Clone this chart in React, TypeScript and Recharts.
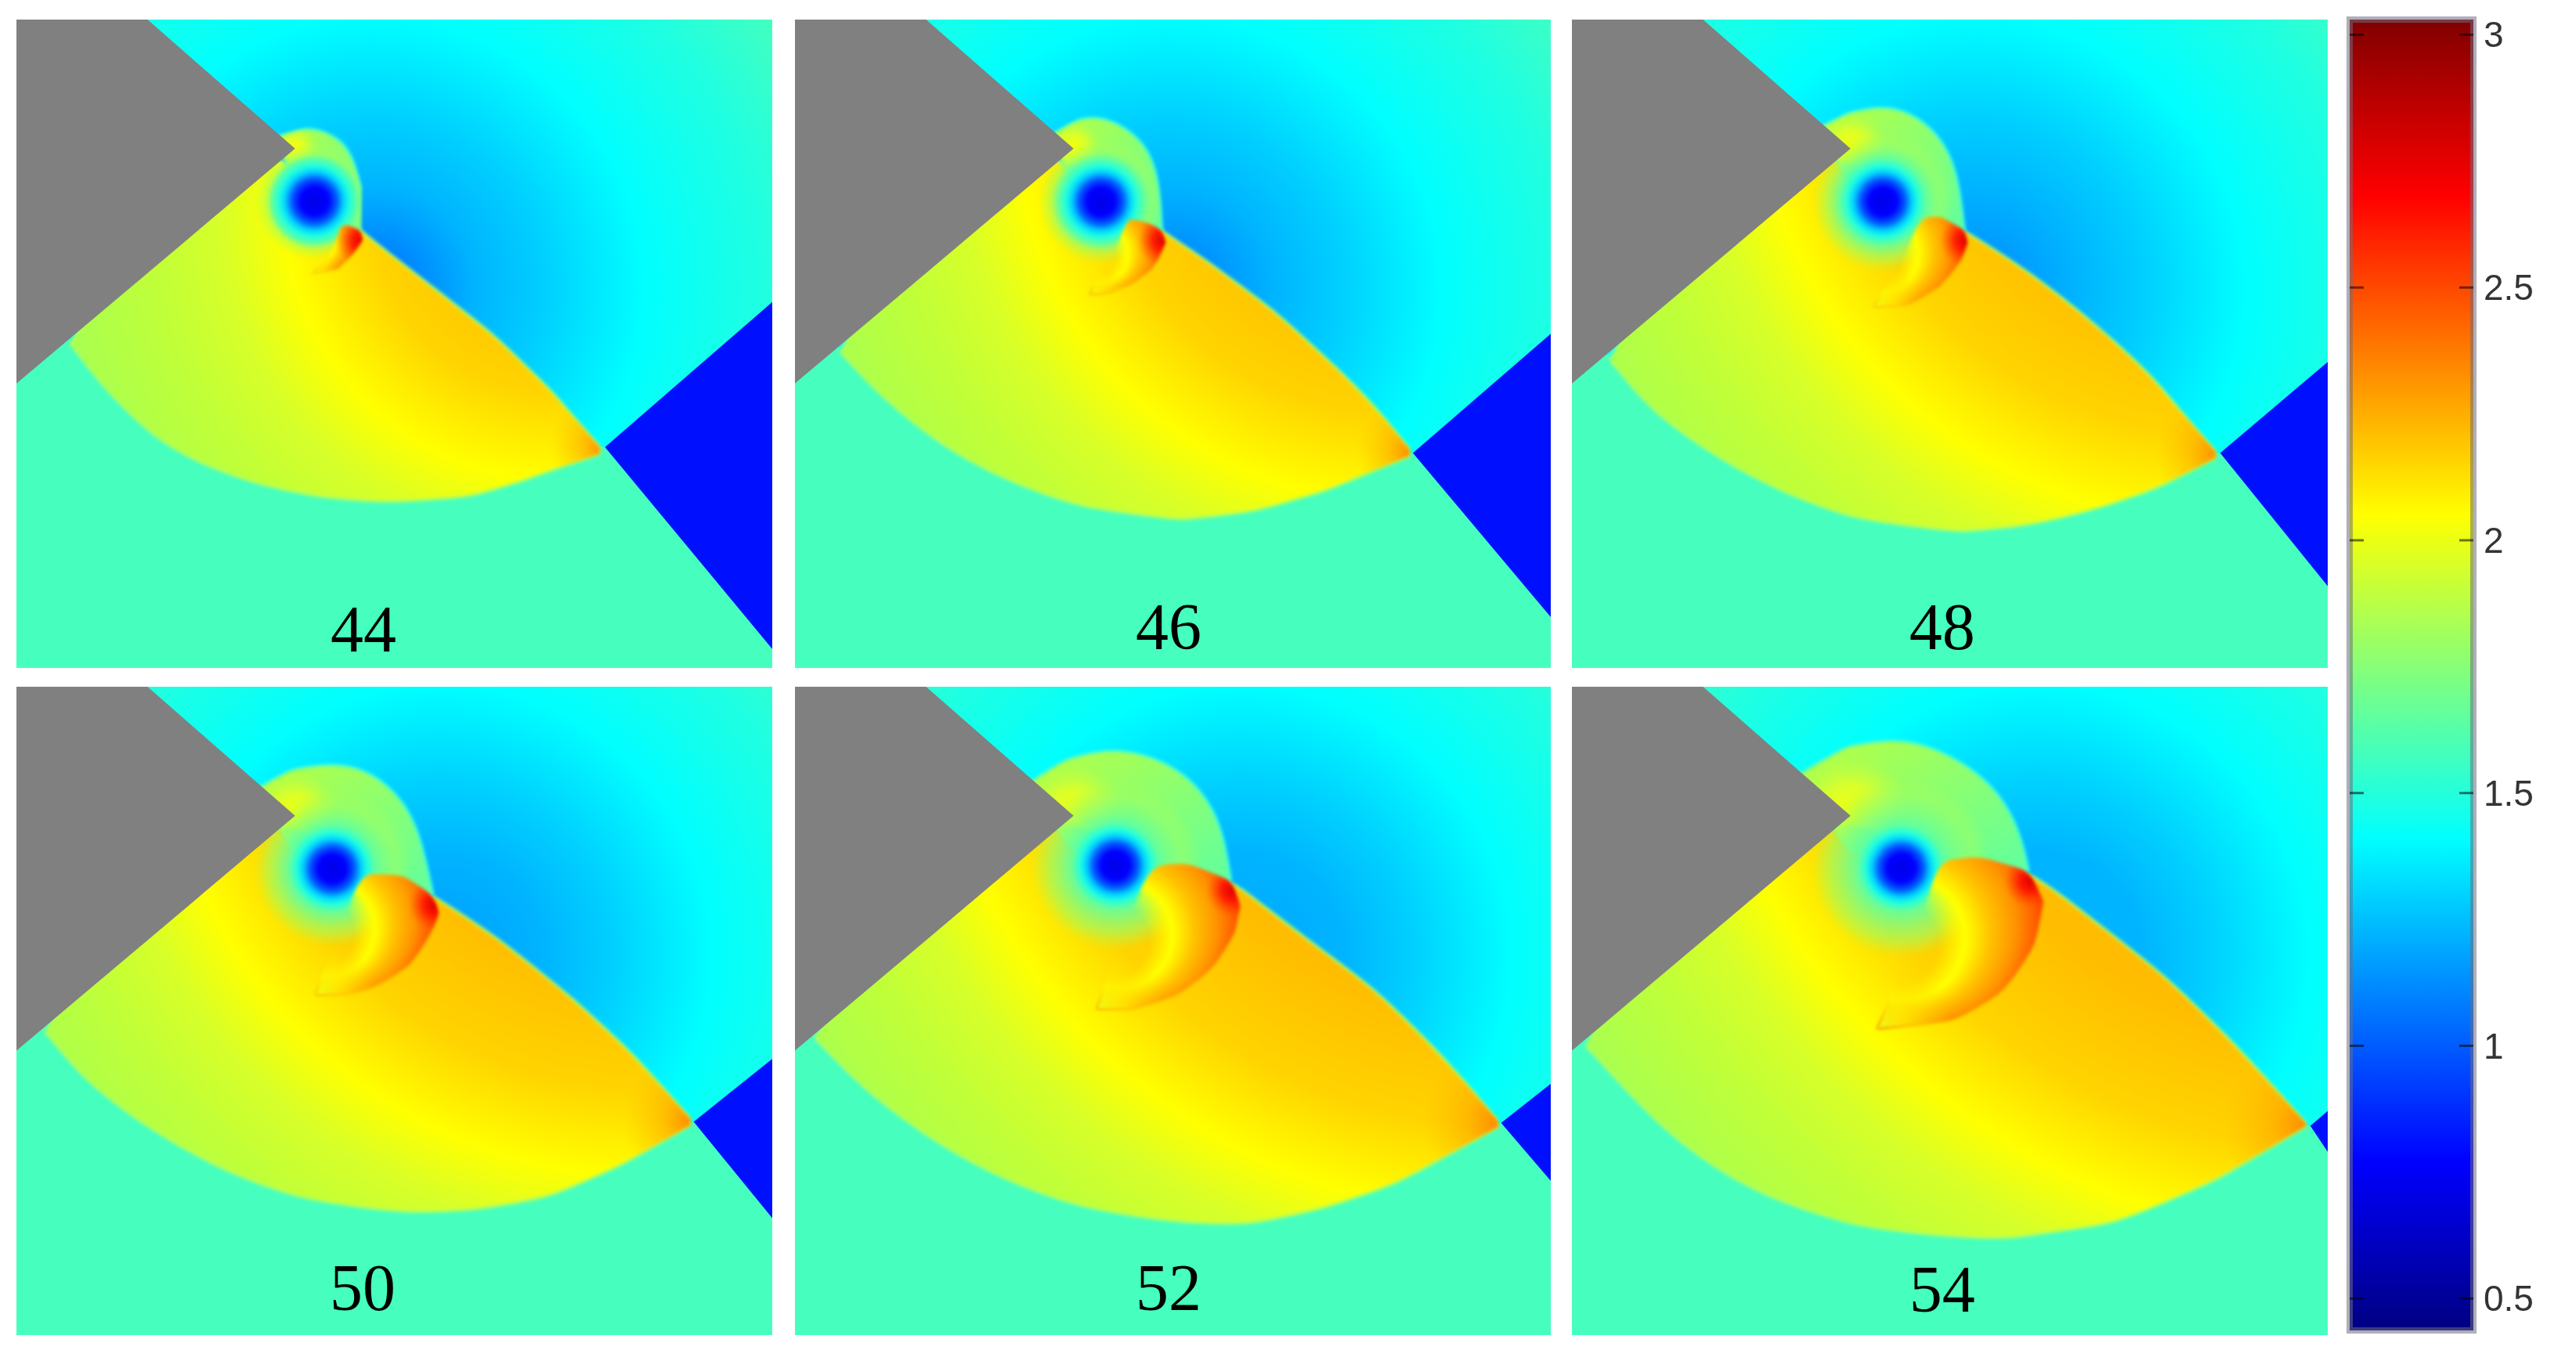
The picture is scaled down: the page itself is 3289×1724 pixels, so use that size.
import React from 'react';
import { Area, Bar, BarChart, ComposedChart, ReferenceDot, XAxis, YAxis } from 'recharts';

type Pt = [number, number];

// field coordinates run 0..1568 on both axes of a panel, y going down
const FIELD = 1568;
const PANEL_W = 965;
const PANEL_H = 828;
const panelPos: Pt[] = [[21, 25], [1015, 25], [2007, 25], [21, 877], [1015, 877], [2007, 877]];

const panelLabels = ['44', '46', '48', '50', '52', '54'];
const labelX = [720, 775, 768, 718, 775, 768];
const labelY = [1472, 1467, 1467, 1450, 1450, 1454];

const wedgeUpper: Pt[] = [[0, 0], [272, 0], [578, 312]];
const wedgeLower: Pt[] = [[0, 880], [272, 613], [578, 312]];

// tip x, tip y, y at right edge (top), y at right edge (bottom)
const blueRegions = [
  [1221, 1034, 683, 1522],
  [1282, 1048, 760, 1445],
  [1345, 1048, 828, 1370],
  [1405, 1052, 900, 1285],
  [1465, 1055, 960, 1195],
  [1532, 1062, 1026, 1125],
];

const fanArcs: Pt[][] = [
  [[112, 784], [182, 890], [290, 1018], [397, 1082], [505, 1124], [634, 1156], [774, 1167], [936, 1155], [1044, 1118], [1125, 1084], [1210, 1050]],
  [[95, 805], [170, 900], [300, 1030], [450, 1120], [600, 1180], [800, 1210], [950, 1190], [1100, 1140], [1275, 1055]],
  [[80, 825], [170, 950], [300, 1060], [450, 1150], [600, 1210], [800, 1238], [950, 1225], [1100, 1180], [1220, 1130], [1335, 1060]],
  [[60, 835], [150, 960], [300, 1090], [450, 1180], [600, 1240], [800, 1272], [950, 1265], [1100, 1235], [1250, 1160], [1398, 1060]],
  [[42, 850], [150, 980], [300, 1110], [450, 1200], [600, 1260], [800, 1298], [950, 1298], [1100, 1260], [1250, 1200], [1458, 1065]],
  [[30, 869], [113, 975], [200, 1080], [317, 1180], [430, 1245], [611, 1310], [870, 1339], [1129, 1297], [1337, 1193], [1523, 1062]],
];

const shocks: Pt[][] = [
  [[715, 513], [850, 635], [990, 763], [1108, 896], [1210, 1034]],
  [[762, 512], [850, 580], [1000, 710], [1130, 850], [1200, 930], [1275, 1040]],
  [[815, 512], [950, 610], [1100, 750], [1200, 860], [1335, 1045]],
  [[865, 505], [1000, 610], [1150, 750], [1280, 890], [1398, 1045]],
  [[905, 470], [1050, 600], [1200, 730], [1350, 900], [1458, 1050]],
  [[948, 447], [1026, 514], [1233, 702], [1388, 880], [1523, 1057]],
];

// first point of each sits just inside the wedge
const bubbleTops: Pt[][] = [
  [[539, 284], [613, 258], [677, 290], [700, 340], [715, 410], [715, 513]],
  [[530, 280], [590, 240], [630, 234], [680, 255], [730, 305], [755, 380], [762, 512]],
  [[515, 260], [575, 225], [640, 208], [700, 222], [760, 275], [800, 360], [815, 512]],
  [[500, 245], [570, 200], [650, 185], [720, 196], [790, 255], [835, 340], [865, 505]],
  [[485, 232], [560, 175], [650, 150], [720, 160], [800, 200], [860, 275], [890, 360], [905, 470]],
  [[472, 210], [569, 144], [663, 125], [735, 139], [818, 186], [891, 260], [932, 358], [948, 447]],
];

const vortices: Pt[] = [[618, 439], [635, 440], [645, 440], [655, 440], [665, 432], [683, 438]];

const crescentTops: Pt[][] = [
  [[612, 614], [645, 582], [667, 529], [672, 492], [699, 503], [715, 513], [717, 534]],
  [[610, 665], [660, 570], [690, 482], [730, 490], [762, 512], [768, 540]],
  [[625, 695], [680, 600], [725, 475], [770, 478], [815, 512], [820, 540]],
  [[620, 745], [680, 560], [715, 452], [800, 455], [865, 505], [875, 545]],
  [[625, 780], [690, 580], [735, 430], [820, 428], [905, 470], [923, 530]],
  [[632, 828], [715, 619], [756, 421], [849, 410], [948, 447], [978, 520]],
];

const crescentBottoms: Pt[][] = [
  [[612, 614], [667, 604], [699, 566], [717, 534]],
  [[610, 665], [650, 662], [700, 640], [745, 600], [768, 540]],
  [[625, 695], [700, 690], [760, 650], [805, 590], [820, 540]],
  [[620, 745], [680, 745], [750, 725], [820, 670], [865, 590], [875, 545]],
  [[625, 780], [700, 780], [790, 750], [870, 680], [915, 590], [923, 530]],
  [[632, 828], [797, 807], [901, 734], [963, 619], [978, 520]],
];

// centre and radius of the crescent's rim, in pixels of the panel
const rimCentres: Pt[] = [[390, 275], [405, 285], [415, 280], [425, 285], [445, 290], [460, 290]];
const rimRadii = [50, 67, 90, 110, 123, 140];

// iso-density circle through the yellow band of the fan
const fanCentres: Pt[] = [[690, 240], [770, 130], [830, 40], [800, 10], [900, -60], [1000, -150]];
const fanRadii = [347, 486, 600, 614, 730, 855];

const haloOuter = [75, 80, 90, 100, 108, 115];
const apexGlow = [30, 36, 48, 58, 68, 80];
const tipGlow = [70, 70, 80, 90, 100, 110];
const airCentreX = [740, 780, 835, 880, 925, 968];
const airCores = ['#0068ff', '#0078ff', '#0088ff', '#009cff', '#00a8ff', '#00b4ff'];

const colorTicks = [0.5, 1, 1.5, 2, 2.5, 3];
const colorDomain: Pt = [0.437, 3.03];
const colorStops: [number, string][] = [
  [0.437, '#000080'],
  [0.77, '#0000ff'],
  [1.41, '#00ffff'],
  [2.05, '#ffff00'],
  [2.68, '#ff0000'],
  [3.03, '#800000'],
];

const sx = (z: number) => (z * PANEL_W) / FIELD;
const sy = (z: number) => (z * PANEL_H) / FIELD;
const wedgeEdge = (x: number) => 880 - 0.9827 * x;

const at = (line: Pt[], x: number) => {
  if (x <= line[0][0]) return line[0][1];
  for (let i = 1; i < line.length; i++) {
    if (x <= line[i][0]) {
      const [x0, y0] = line[i - 1];
      const [x1, y1] = line[i];
      return y0 + ((y1 - y0) * (x - x0)) / (x1 - x0);
    }
  }
  return line[line.length - 1][1];
};

// Area wants one row per x with [upper, lower]
const band = (top: Pt[], bottom: Pt[]) => {
  const xs = Array.from(new Set([...top, ...bottom].map((p) => p[0]))).sort((a, b) => a - b);
  return xs.map((x) => ({ x, range: [at(top, x), at(bottom, x)] }));
};

const Radial = ({ id, c, r, f, stops }: { id: string; c: Pt; r: number; f?: Pt; stops: [number, string, number?][] }) => (
  <radialGradient id={id} gradientUnits="userSpaceOnUse" cx={c[0]} cy={c[1]} r={r} fx={f ? f[0] : c[0]} fy={f ? f[1] : c[1]}>
    {stops.map(([d, color, op], k) => (
      <stop key={k} offset={Math.max(0, Math.min(1, d / r))} stopColor={color} stopOpacity={op ?? 1} />
    ))}
  </radialGradient>
);

const Region = ({ data, fill, soft, type, stroke }: any) => (
  <Area
    data={data}
    dataKey="range"
    type={type || 'linear'}
    fill={fill}
    fillOpacity={1}
    stroke={stroke || 'none'}
    strokeWidth={stroke ? 3 : 0}
    className={soft ? 'soft' : undefined}
    dot={false}
    activeDot={false}
    isAnimationActive={false}
  />
);

const Panel = ({ i }: { i: number }) => {
  const [tx, ty, rt, rb] = blueRegions[i];
  const tip: Pt = [tx, ty];
  const shock = shocks[i];
  const arc = fanArcs[i];
  const bubble = bubbleTops[i];
  const fanTop: Pt[] = [arc[0], [arc[0][0] + 40, wedgeEdge(arc[0][0] + 40) - 30], [540, 320], ...shock];
  const bubbleBottom: Pt[] = [bubble[0], [578, 400], shock[0]];
  const fanRows = band(fanTop, arc);
  const bubbleRows = band(bubble, bubbleBottom);
  const crescentRows = band(crescentTops[i], crescentBottoms[i]);
  const v: Pt = [sx(vortices[i][0]), sy(vortices[i][1])];
  const R = fanRadii[i];
  const rim = rimRadii[i];
  const outer = haloOuter[i];

  // focus pulled to the left so the band is widest at the right of the rim, like a moon
  const rc = rimCentres[i];
  const tail: Pt = [sx(crescentTops[i][0][0]), sy(crescentTops[i][0][1])];
  const gc: Pt = [rc[0] - rim * 0.03, rc[1] + rim * 0.07];
  const focus: Pt = [gc[0] - rim * 0.51, gc[1] + rim * 0.32];
  const rimR = rim * 1.05;

  return (
    <div style={{ position: 'absolute', left: panelPos[i][0], top: panelPos[i][1] }}>
      <ComposedChart width={PANEL_W} height={PANEL_H} margin={{ top: 0, right: 0, bottom: 0, left: 0 }}>
        <defs>
          <Radial
            id={`air${i}`}
            c={[sx(airCentreX[i]), sy(650)]}
            r={620}
            stops={[[0, airCores[i]], [130, '#00b4ff'], [220, '#00d0ff'], [346, '#00ffff'], [500, '#20ffe0'], [620, '#45ffbe']]}
          />
          <Radial
            id={`fan${i}`}
            c={fanCentres[i]}
            r={R + 320}
            stops={[[R - 260, '#ffbc00'], [R - 110, '#ffd400'], [R, '#ffff00'], [R + 80, '#d8ff28'], [R + 170, '#c0ff38'], [R + 320, '#a4ff54']]}
          />
          <Radial
            id={`tip${i}`}
            c={[sx(tx), sy(ty)]}
            r={tipGlow[i]}
            stops={[[0, '#ff8000', 0.95], [tipGlow[i] * 0.45, '#ffa000', 0.5], [tipGlow[i], '#ffb400', 0]]}
          />
          <Radial
            id={`halo${i}`}
            c={v}
            r={outer}
            stops={[[0, '#0000e8'], [18, '#0000ff'], [29, '#0060ff'], [37, '#00d0ff'], [45, '#20ffe0'], [55, '#60ffa0', 0.95], [outer * 0.8, '#98ff68', 0.6], [outer, '#b0ff50', 0]]}
          />
          <Radial
            id={`apex${i}`}
            c={[sx(578), sy(312)]}
            r={apexGlow[i]}
            stops={[[0, '#ffff00'], [apexGlow[i] * 0.5, '#e8ff20', 0.8], [apexGlow[i], '#c0ff40', 0]]}
          />
          <linearGradient id={`bubble${i}`} x1="0" y1="0" x2="1" y2="1">
            <stop offset="0" stopColor="#b8ff40" />
            <stop offset="1" stopColor="#60ffa0" />
          </linearGradient>
          <Radial
            id={`rim${i}`}
            c={gc}
            r={rimR}
            f={focus}
            stops={[[rimR * 0.38, '#ffff00', 0], [rimR * 0.54, '#ffff00'], [rimR * 0.68, '#ffc400'], [rimR * 0.83, '#ff9400'], [rimR * 0.96, '#ff5800'], [rimR, '#ff3c00']]}
          />
          <Radial
            id={`tail${i}`}
            c={tail}
            r={rim * 0.7}
            stops={[[0, '#f0ff10'], [rim * 0.3, '#ffec00', 0.8], [rim * 0.7, '#ffd000', 0]]}
          />
          <Radial
            id={`red${i}`}
            c={[sx(shock[0][0] + 4), sy(shock[0][1] + 22)]}
            r={34}
            stops={[[0, '#d80000'], [14, '#ff1000', 0.9], [34, '#ff4000', 0]]}
          />
        </defs>
        <XAxis dataKey="x" type="number" domain={[0, FIELD]} hide allowDataOverflow />
        <YAxis type="number" domain={[0, FIELD]} reversed hide allowDataOverflow />

        <Region data={band([[0, 0], [FIELD, 0]], [[0, FIELD], [FIELD, FIELD]])} fill={`url(#air${i})`} />
        <Region data={band([[0, 760], [arc[0][0], arc[0][1] - 10], tip, [FIELD, rb]], [[0, FIELD], [FIELD, FIELD]])} fill="#46ffbe" />
        <Region data={band([tip, [FIELD, rt]], [tip, [FIELD, rb]])} fill="#0010ff" />

        <Region data={fanRows} fill={`url(#fan${i})`} soft type="basis" stroke="#b0ff60" />
        <Region data={fanRows} fill={`url(#tip${i})`} soft type="basis" />
        <Region data={bubbleRows} fill={`url(#bubble${i})`} soft type="basis" stroke="#40ffd8" />
        <Region data={bubbleRows} fill={`url(#apex${i})`} soft type="basis" />
        <Region data={fanRows} fill={`url(#halo${i})`} soft type="basis" />
        <Region data={bubbleRows} fill={`url(#halo${i})`} soft type="basis" />
        <Region data={crescentRows} fill={`url(#rim${i})`} soft type="basis" />
        <Region data={crescentRows} fill={`url(#tail${i})`} soft type="basis" />
        <Region data={crescentRows} fill={`url(#red${i})`} soft type="basis" />

        <Region data={band(wedgeUpper, wedgeLower)} fill="#808080" />

        <ReferenceDot
          x={labelX[i]}
          y={labelY[i]}
          r={0}
          fill="none"
          stroke="none"
          label={{ value: panelLabels[i], position: 'center', fontSize: 84, fontFamily: 'Liberation Serif', fill: '#000' }}
        />
      </ComposedChart>
    </div>
  );
};

const ColorTick = ({ y, payload }: any) => (
  <g>
    <line x1={20} x2={38} y1={y} y2={y} stroke="#000" strokeOpacity={0.55} strokeWidth={3} />
    <line x1={160} x2={178} y1={y} y2={y} stroke="#000" strokeOpacity={0.55} strokeWidth={3} />
    <text x={191} y={y} dy={16} fontSize={46} fontFamily="Liberation Sans" fill="#333" style={{ filter: 'blur(0.7px)' }}>
      {payload.value}
    </text>
  </g>
);

const ColorBar = () => (
  <div style={{ position: 'absolute', left: 2980, top: 0 }}>
    <BarChart
      width={309}
      height={1724}
      data={[{ name: 'density', range: colorDomain }]}
      margin={{ top: 25, right: 0, bottom: 25, left: 20 }}
      barCategoryGap={0}
    >
      <defs>
        <linearGradient id="jet" x1="0" y1="1" x2="0" y2="0">
          {colorStops.map(([value, color]) => (
            <stop
              key={value}
              offset={(value - colorDomain[0]) / (colorDomain[1] - colorDomain[0])}
              stopColor={color}
            />
          ))}
        </linearGradient>
      </defs>
      <XAxis dataKey="name" hide />
      <YAxis
        orientation="right"
        width={131}
        type="number"
        domain={colorDomain}
        ticks={colorTicks}
        axisLine={false}
        tickLine={false}
        interval={0}
        tick={<ColorTick />}
      />
      <Bar dataKey="range" fill="url(#jet)" stroke="#6e6e80" strokeOpacity={0.55} strokeWidth={8} isAnimationActive={false} />
    </BarChart>
  </div>
);

export default function App() {
  return (
    <div style={{ position: 'absolute', left: 0, top: 0, width: 3289, height: 1724, background: '#fff', overflow: 'hidden' }}>
      <style>{`.soft{filter:blur(2px)}`}</style>
      {panelLabels.map((_, i) => (
        <Panel key={i} i={i} />
      ))}
      <ColorBar />
    </div>
  );
}
